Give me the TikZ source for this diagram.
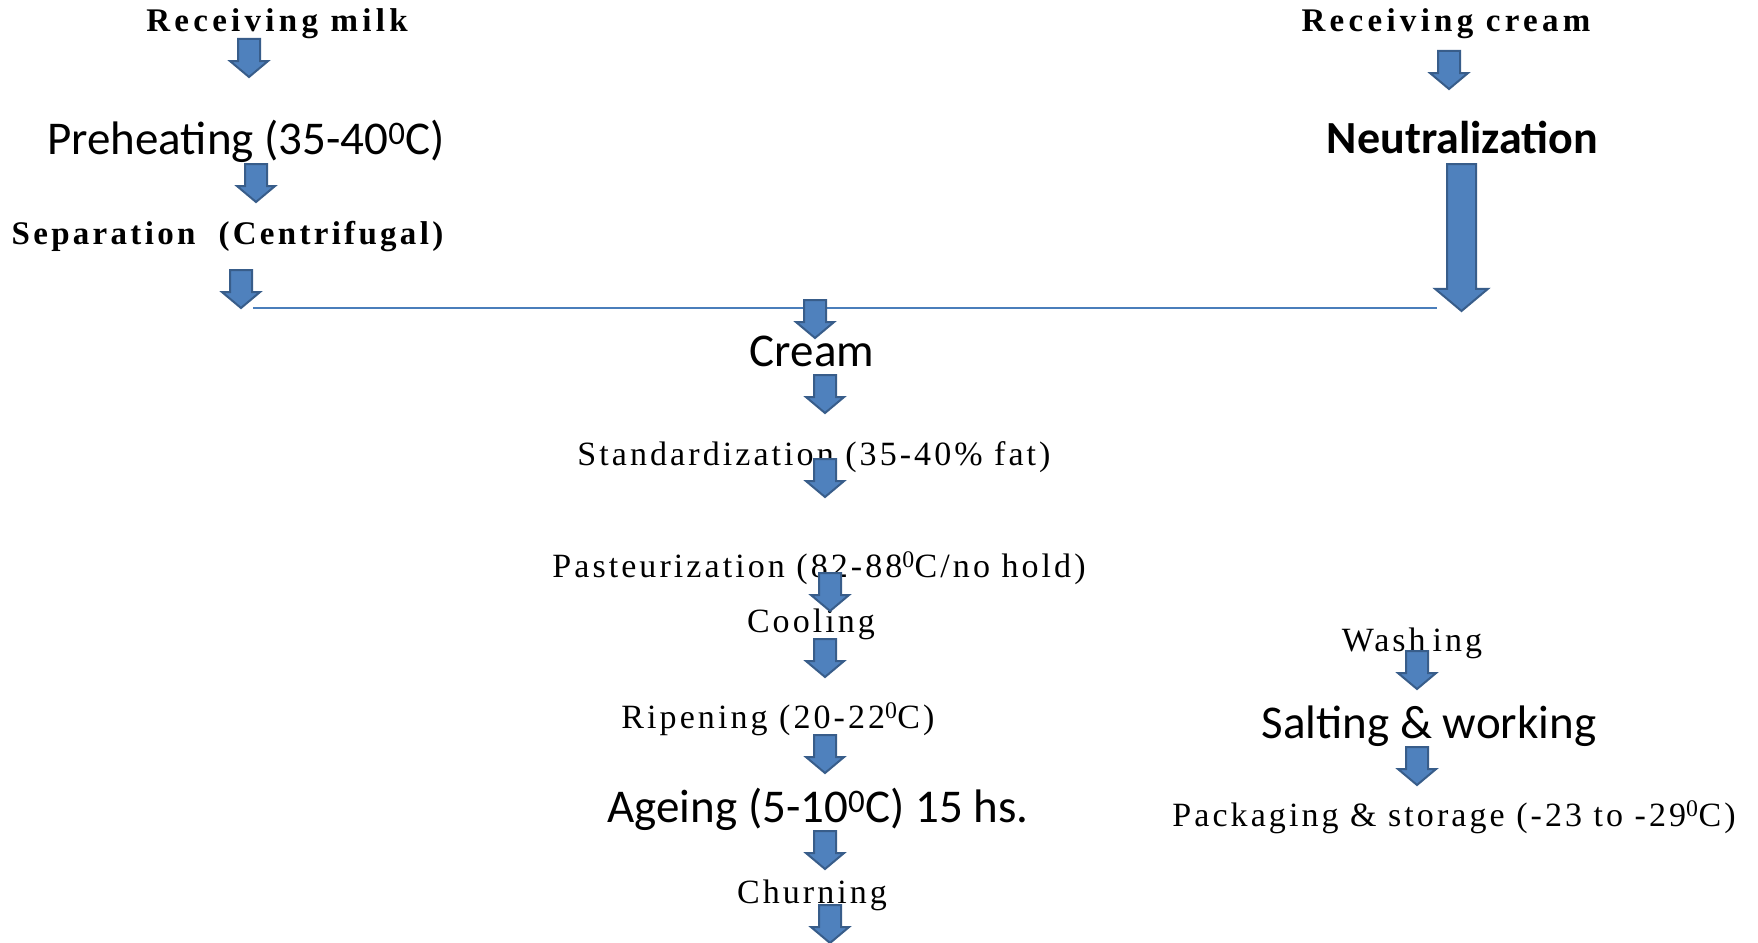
\documentclass[tikz,border=0pt]{standalone}
\usepackage{fontspec}
\newfontfamily\headfont{Liberation Serif}
\newfontfamily\stagefont[LetterSpace=9]{Liberation Serif}
\newfontfamily\bigfont{Carlito}
\usetikzlibrary{shapes.arrows}

\definecolor{arrowblue}{HTML}{4F81BD}
\definecolor{arrowedge}{HTML}{385D8A}
\definecolor{linkblue}{HTML}{4A7EBB}

\tikzset{
  headtext/.style={font=\headfont\addfontfeatures{LetterSpace=#1}\bfseries\fontsize{33}{40}\selectfont, anchor=base, inner sep=0pt},
  headtext/.default=13,
  stage/.style={font=\stagefont\fontsize{34}{40}\selectfont, anchor=base, inner sep=0pt},
  bigtext/.style={font=\bigfont\fontsize{#1}{#1}\selectfont, anchor=base, inner sep=0pt},
  bigtext/.default=47,
  flow/.style={single arrow, draw=arrowedge, fill=arrowblue, line width=2pt,
    inner sep=10pt, single arrow head extend=8pt, single arrow tip angle=100,
    shape border rotate=270, anchor=tail, minimum height=38pt},
}

\begin{document}
\begin{tikzpicture}[x=1pt,y=-1pt]
    \useasboundingbox (0,0) rectangle (1758,942);
    \fill[white] (0,0) rectangle (1758,942);

    % joining line
    \coordinate (joinL) at (253,308);
    \coordinate (joinR) at (1437,308);
    \draw[linkblue, line width=1.3pt] (joinL) -- (joinR);

    % milk side
    \node[headtext] (milk) at (277,32) {Receiving milk};
    \node[bigtext] (preheat) at (246,154) {Preheating (35-40\textsuperscript{0}C)};
    \node[headtext=10] (separ) at (227.5,244) {Separation\ \ (Centrifugal)};

    % cream side
    \node[headtext] (rcream) at (1446,32) {Receiving cream};
    \node[bigtext, font=\bigfont\bfseries\fontsize{46}{46}\selectfont] (neutral) at (1462.5,153) {Neutralization};

    % main line
    \node[bigtext] (cream) at (812,366) {Cream};
    \node[stage] (stand) at (814,465) {Standardization (35-40\% fat)};
    \node[stage] (pasteur) at (819,577) {Pasteurization (82-88\textsuperscript{0}C/no hold)};
    \node[stage] (cool) at (811,632) {Cooling};
    \node[stage] (ripen) at (778,728) {Ripening (20-22\textsuperscript{0}C)};
    \node[bigtext] (ageing) at (818,822) {Ageing (5-10\textsuperscript{0}C) 15 hs.};
    \node[stage] (churn) at (812,903) {Churning};

    % after churning
    \node[stage] (wash) at (1412,651) {Wash\hspace{0.2em}ing};
    \node[bigtext] (salt) at (1429,738) {Salting \& working};
    \node[stage] (pack) at (1454,826) {Packaging \& storage (-23 to -29\textsuperscript{0}C)};

    % block arrows
    \node[flow] (a1) at (249,38) {};
    \node[flow] (a2) at (256,163) {};
    \node[flow] (a3) at (241,269) {};
    \node[flow] (a4) at (1449,50) {};
    \node[flow, inner sep=13.5pt, single arrow head extend=12pt, minimum height=147pt] (a5) at (1461.5,163) {};
    \node[flow] (a6) at (815,299) {};
    \node[flow] (a7) at (825,374) {};
    \node[flow] (a8) at (825,458) {};
    \node[flow] (a9) at (830,572) {};
    \node[flow] (a10) at (825,638) {};
    \node[flow] (a11) at (825,734) {};
    \node[flow] (a12) at (825,830) {};
    \node[flow] (a13) at (830,904) {};
    \node[flow] (a14) at (1417,650) {};
    \node[flow] (a15) at (1417,746) {};
\end{tikzpicture}
\end{document}
